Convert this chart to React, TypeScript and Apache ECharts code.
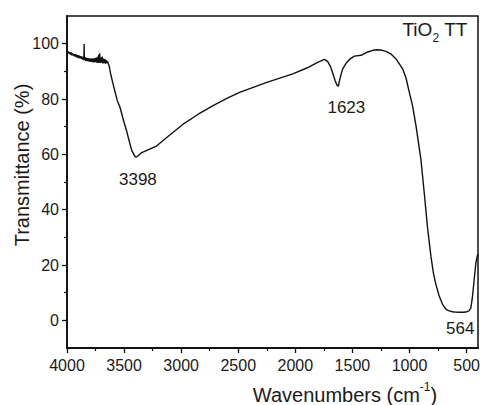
import React, { useEffect, useRef } from "react";
import * as echarts from "echarts";

const wavenumbers = [
  4000, 3994, 3988, 3982, 3976, 3970, 3964, 3958, 3952, 3946, 3940, 3934, 3928, 3922, 3916, 3910,
  3904, 3898, 3892, 3886, 3880, 3874, 3868, 3862, 3856, 3852, 3850, 3848, 3842, 3836, 3830, 3824,
  3818, 3812, 3806, 3800, 3794, 3788, 3782, 3776, 3770, 3764, 3758, 3752, 3746, 3740, 3734, 3728,
  3722, 3718, 3714, 3710, 3704, 3698, 3692, 3686, 3680, 3674, 3668, 3662, 3656, 3650, 3644, 3638,
  3632, 3626, 3620, 3600, 3560, 3536, 3500, 3478, 3450, 3434,
  3410, 3398, 3385, 3350, 3281, 3216, 3100, 2983, 2850, 2721, 2600, 2488, 2250, 2022, 1900, 1800,
  1745, 1716, 1690, 1672, 1650, 1635, 1623, 1614, 1600, 1585, 1550, 1526, 1483, 1424, 1400, 1366,
  1320, 1279, 1240, 1206, 1160, 1118, 1089, 1060, 1030, 1002, 973, 943, 900, 871, 842, 812, 790,
  769, 740, 711, 680, 652, 623, 600, 564, 530, 506, 480, 463, 450, 434, 419, 405, 400,
];
const transmittance = [
  97.3, 96.6, 97.2, 96.4, 96.9, 96.1, 96.8, 95.8, 96.5, 95.7, 96.3, 95.4, 96.2, 95.2, 96.0, 95.0,
  95.8, 94.8, 95.7, 94.7, 95.5, 94.5, 95.3, 94.2, 95.2, 94.0, 99.9, 94.3, 95.1, 93.8, 94.9, 93.7,
  94.8, 93.6, 94.7, 93.5, 94.6, 93.4, 94.7, 93.3, 94.6, 93.2, 94.8, 93.3, 94.9, 93.1, 95.2, 93.0,
  96.0, 93.2, 96.5, 93.0, 95.0, 93.1, 95.3, 92.9, 94.6, 93.0, 94.4, 92.8, 94.0, 93.0, 93.6, 92.6,
  92.2, 91.0, 89.5, 86.0, 79.5, 77.0, 71.5, 68.5, 64.0, 61.5,
  59.6, 59.0, 59.2, 60.5, 61.8, 63.0, 67.0, 70.9, 74.5, 77.6, 80.2, 82.4, 86.0, 89.1, 91.2, 93.3,
  94.3, 93.5, 91.5, 89.3, 86.5, 85.0, 84.6, 86.5, 88.8, 90.9, 93.2, 94.3, 95.5, 95.8, 96.3, 97.0,
  97.6, 97.8, 97.6, 97.2, 96.2, 94.5, 92.7, 90.9, 87.5, 82.5, 77.5, 70.3, 58.2, 46.1, 33.5, 23.0, 17.0,
  13.0, 8.8, 5.8, 4.0, 3.4, 3.1, 3.0, 2.9, 2.9, 3.0, 3.4, 4.4, 8.0, 14.5, 20.7, 23.5, 24.0,
];

const xMajorTicks = [500, 1000, 1500, 2000, 2500, 3000, 3500, 4000];
const xMinorTicks = [750, 1250, 1750, 2250, 2750, 3250, 3750];
const yMajorTicks = [0, 20, 40, 60, 80, 100];
const yMinorTicks = [10, 30, 50, 70, 90];

const peakNames = ["3398", "1623", "564"];
const peakLabelX = [3379, 1553, 556];
const peakLabelY = [51, 77, -3];

const FONT = "'Liberation Sans', Arial, sans-serif";

export default function App() {
  const ref = useRef<HTMLDivElement>(null);

  useEffect(() => {
    document.body.style.margin = "0";
    if (!ref.current) return;
    const chart = echarts.init(ref.current, null, { renderer: "svg" });

    const lineData = wavenumbers.map((w, i) => [w, transmittance[i]]);
    const peakData = peakNames.map((n, i) => ({ value: [peakLabelX[i], peakLabelY[i]], name: n }));

    const xBase = {
      type: "value" as const,
      min: 400,
      max: 4000,
      inverse: true,
      position: "bottom" as const,
      splitLine: { show: false },
    };
    const yBase = {
      type: "value" as const,
      min: -10,
      max: 110,
      position: "left" as const,
      splitLine: { show: false },
    };
    const fmt = (v: number) => String(v);

    chart.setOption({
      animation: false,
      backgroundColor: "#ffffff",
      grid: {
        left: 67,
        right: 2,
        top: 16,
        bottom: 57,
        containLabel: false,
        outerBoundsMode: "none",
        show: true,
        borderColor: "#111",
        borderWidth: 1.5,
        backgroundColor: "transparent",
      },
      xAxis: [
        {
          ...xBase,
          axisLine: { show: true, onZero: false, lineStyle: { color: "#111", width: 1.8 } },
          axisTick: { show: true, inside: false, length: 5, customValues: xMajorTicks, lineStyle: { color: "#111", width: 1.3 } },
          axisLabel: { show: true, customValues: xMajorTicks, formatter: fmt, margin: 9, fontSize: 16, color: "#1a1a1a", fontFamily: FONT },
        },
        {
          ...xBase,
          axisLine: { show: false, onZero: false },
          axisTick: { show: true, inside: false, length: 3, customValues: xMinorTicks, lineStyle: { color: "#111", width: 1.2 } },
          axisLabel: { show: false },
        },
      ],
      yAxis: [
        {
          ...yBase,
          axisLine: { show: true, onZero: false, lineStyle: { color: "#111", width: 1.8 } },
          axisTick: { show: true, inside: false, length: 5, customValues: yMajorTicks, lineStyle: { color: "#111", width: 1.3 } },
          axisLabel: { show: true, customValues: yMajorTicks, formatter: fmt, margin: 8, fontSize: 16, color: "#1a1a1a", fontFamily: FONT },
        },
        {
          ...yBase,
          axisLine: { show: false, onZero: false },
          axisTick: { show: true, inside: false, length: 3, customValues: yMinorTicks, lineStyle: { color: "#111", width: 1.2 } },
          axisLabel: { show: false },
        },
      ],
      series: [
        {
          type: "line",
          xAxisIndex: 0,
          yAxisIndex: 0,
          data: lineData,
          showSymbol: false,
          symbol: "none",
          lineStyle: { color: "#111", width: 1.4 },
          clip: true,
          silent: true,
        },
        {
          type: "scatter",
          xAxisIndex: 0,
          yAxisIndex: 0,
          data: peakData,
          symbolSize: 1,
          itemStyle: { color: "#ffffff", opacity: 0 },
          label: {
            show: true,
            position: "inside",
            formatter: (p: any) => p.name,
            fontSize: 17,
            color: "#1a1a1a",
            opacity: 1,
            fontFamily: FONT,
          },
          silent: true,
        },
      ],
      graphic: [
        {
          type: "text",
          x: 22,
          y: 165,
          rotation: Math.PI / 2,
          style: {
            text: "Transmittance (%)",
            fontSize: 20,
            fontFamily: FONT,
            fill: "#1a1a1a",
            align: "center",
            verticalAlign: "middle",
          },
        },
        {
          type: "text",
          x: 345,
          y: 393,
          style: {
            text: "{a|Wavenumbers (cm}{s|-1}{a|)}",
            fontFamily: FONT,
            fill: "#1a1a1a",
            align: "center",
            verticalAlign: "middle",
            rich: {
              a: { fontSize: 20, fontFamily: FONT, fill: "#1a1a1a", lineHeight: 24, verticalAlign: "bottom" },
              s: { fontSize: 12, fontFamily: FONT, fill: "#1a1a1a", lineHeight: 24, verticalAlign: "top" },
            },
          },
        },
        {
          type: "text",
          x: 435,
          y: 32,
          style: {
            text: "{a|TiO}{s|2}{a| TT}",
            fontFamily: FONT,
            fill: "#1a1a1a",
            align: "center",
            verticalAlign: "middle",
            rich: {
              a: { fontSize: 19, fontFamily: FONT, fill: "#1a1a1a", lineHeight: 24, verticalAlign: "top" },
              s: { fontSize: 12, fontFamily: FONT, fill: "#1a1a1a", lineHeight: 24, verticalAlign: "bottom" },
            },
          },
        },
      ],
    });

    return () => chart.dispose();
  }, []);

  return <div ref={ref} style={{ width: 480, height: 405 }} />;
}
